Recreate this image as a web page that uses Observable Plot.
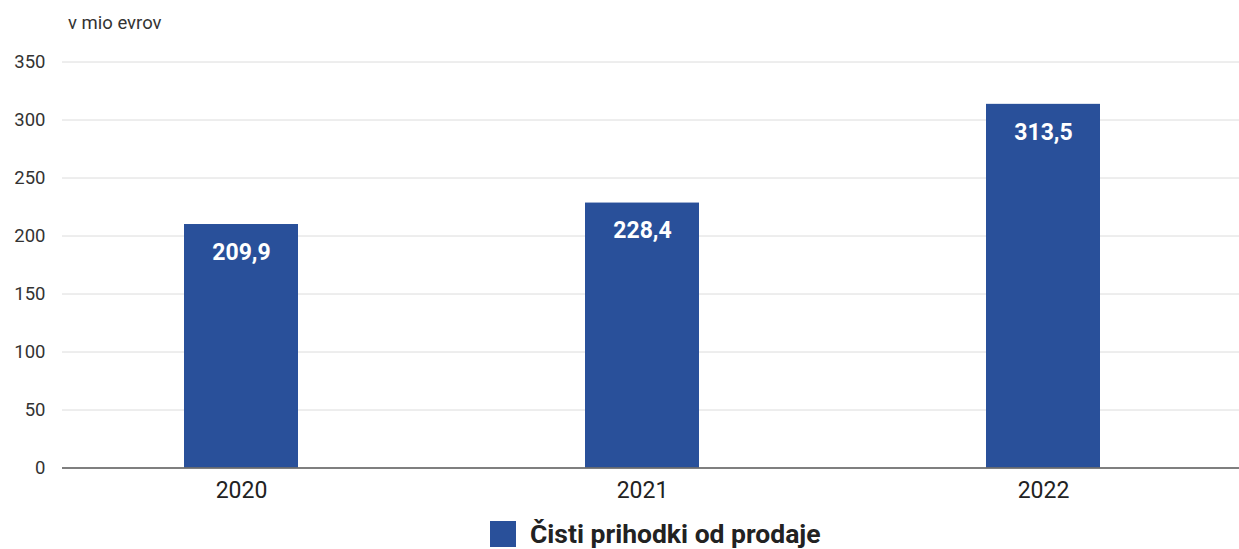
<!DOCTYPE html>
<html><head><meta charset="utf-8">
<script src="https://cdn.jsdelivr.net/npm/d3@7"></script>
<script src="https://cdn.jsdelivr.net/npm/@observablehq/plot@0.6"></script>
<style>
body{margin:0;background:#fff;font-family:Roboto,"Noto Sans",sans-serif;}
#wrap{position:relative;width:1239px;height:549px;overflow:hidden;}
#unit{position:absolute;left:68px;top:12px;font-size:18.5px;color:#333;}
#legend{position:absolute;left:490px;top:518px;display:flex;align-items:center;font-size:26.5px;font-weight:bold;color:#222;white-space:nowrap;}
#legend span.sw{display:inline-block;width:26px;height:26px;background:#29509a;margin-right:14px;}
</style></head>
<body><div id="wrap"><div id="unit">v mio evrov</div><div id="chart"></div><div id="legend"><span class="sw"></span>Čisti prihodki od prodaje</div></div>
<script>
const years = ["2020", "2021", "2022"];
const revenue = [209.9, 228.4, 313.5];
const yTicks = [0, 50, 100, 150, 200, 250, 300, 350];
const seriesName = "Čisti prihodki od prodaje";
const data = years.map((y, i) => ({year: y, value: revenue[i]}));
const fmt = v => v.toFixed(1).replace(".", ",");
const chart = Plot.plot({
  width: 1239, height: 510,
  marginLeft: 62, marginRight: 0, marginTop: 61.5, marginBottom: 42.5,
  style: {fontFamily: "Roboto, 'Noto Sans', sans-serif", background: "#fff", overflow: "visible"},
  x: {domain: years, range: [62, 1222], paddingInner: 0.716, paddingOuter: 0.301, label: null},
  y: {domain: [0, 350], label: null},
  marks: [
    Plot.ruleY(yTicks.filter(d => d > 0), {stroke: "#dcdcdc", strokeWidth: 1}),
    Plot.barY(data, {x: "year", y: "value", fill: "#29509a"}),
    Plot.ruleY([0], {stroke: "#555", strokeWidth: 1.5}),
    Plot.text(data, {x: "year", y: "value", text: d => fmt(d.value), dy: 28, fill: "white", fontWeight: "bold", fontSize: 23}),
    Plot.axisY({ticks: yTicks, tickSize: 0, tickPadding: 17, fontSize: 18.5, color: "#333", label: null}),
    Plot.axisX({tickSize: 0, tickPadding: 14, fontSize: 23, color: "#222", label: null})
  ]
});
document.getElementById("chart").appendChild(chart);
</script></body></html>
